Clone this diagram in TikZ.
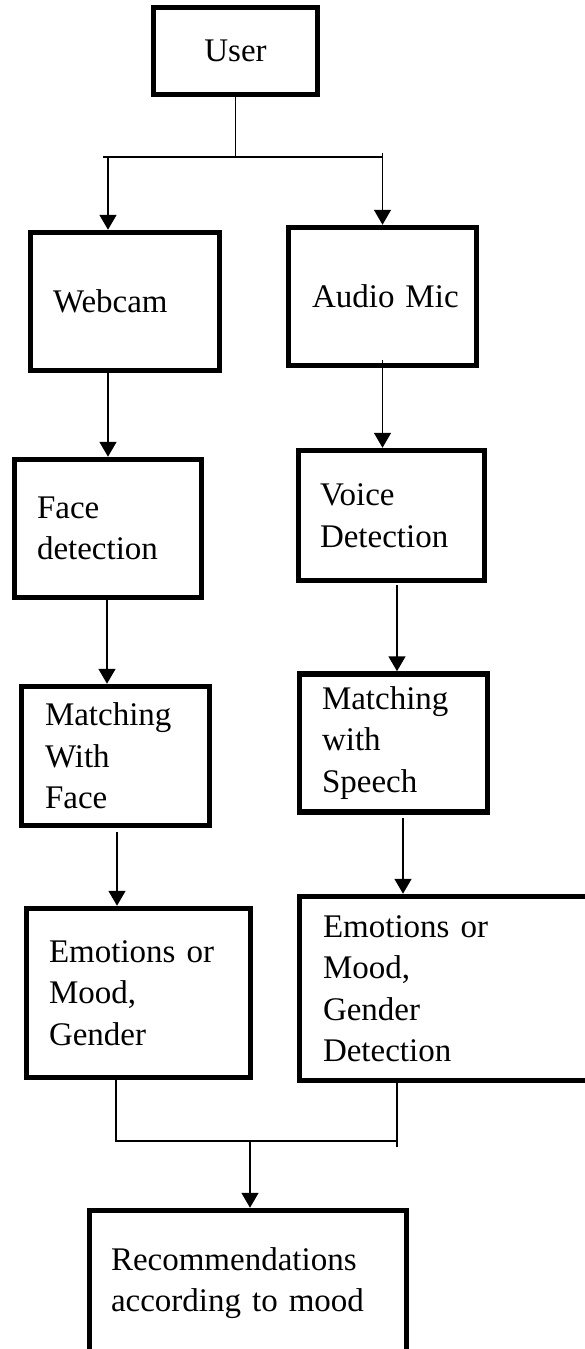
\documentclass[tikz,border=0pt]{standalone}
\usepackage{fontspec}
\setmainfont[WordSpace=0.55]{Liberation Serif}
\usetikzlibrary{arrows.meta}
\tikzset{
  box/.style={draw=black, line width=5.5pt, rectangle, align=left, inner ysep=0pt,
    font=\fontsize{33}{41.5}\selectfont},
  conn/.style={draw=black, line width=1.6pt},
  arr/.style={conn, -{Triangle[width=17pt,length=15pt]}},
}
\begin{document}
\begin{tikzpicture}[x=1pt,y=-1pt]
\useasboundingbox (0,0) rectangle (585,1349);
\clip (0,0) rectangle (585,1349);
\fill[white] (0,0) rectangle (585,1349);

\node[box, align=center, minimum width=164pt, minimum height=87pt] (user) at (235.5,51) {User};
\node[box, minimum width=189pt, minimum height=138pt, inner xsep=22.5pt, text width=144pt] (webcam) at (125,301.5) {Webcam};
\node[box, minimum width=188pt, minimum height=138pt, inner xsep=23.5pt, text width=141pt] (audio) at (382.5,296.5) {Audio~Mic};
\node[box, minimum width=187pt, minimum height=138pt, inner xsep=22.5pt, text width=142pt] (face) at (108,528.5) {Face\\detection};
\node[box, minimum width=186pt, minimum height=130pt, inner xsep=21.5pt, text width=143pt] (voice) at (391.5,515.5) {Voice\\Detection};
\node[box, minimum width=188pt, minimum height=139pt, inner xsep=23.5pt, text width=141pt] (matchF) at (115.5,756) {Matching\\With\\Face};
\node[box, minimum width=188pt, minimum height=138pt, inner xsep=22.5pt, text width=143pt] (matchS) at (393.5,743) {Matching\\with\\Speech};
\node[box, minimum width=224pt, minimum height=169pt, inner xsep=22.5pt, text width=179pt] (emoL) at (138.5,993) {Emotions~or\\Mood,\\Gender};
\node[box, minimum width=300.5pt, minimum height=184pt, inner xsep=23.5pt, text width=253.5pt] (emoR) at (449.75,988.5) {Emotions~or\\Mood,\\Gender\\Detection};
\node[box, minimum width=317pt, minimum height=145.5pt, inner xsep=21.5pt, text width=274pt] (rec) at (248,1283.25) {Recommendations\\according~to~mood};

% split below User
\coordinate (jm) at (235.5,157);
\coordinate (jl0) at (103,157);
\coordinate (jl) at (108,157);
\coordinate (jr) at (382.5,157);
\coordinate (jrt) at (382.5,153);
\draw[conn] (user.south) -- (jm);
\draw[conn] (jl0) -- (jr);
\draw[arr] (jl) -- (jl |- webcam.north);
\draw[arr] (jrt) -- (audio.north);

% left column
\draw[arr] (webcam.south -| face.north) -- (face.north);
\coordinate (fl) at (107,600);
\draw[arr] (fl) -- (fl |- matchF.north);
\coordinate (ml) at (117,832);
\draw[arr] (ml) -- (ml |- emoL.north);

% right column
\coordinate (al) at (382.5,360);
\draw[arr] (al) -- (al |- voice.north);
\coordinate (vl) at (397,585);
\draw[arr] (vl) -- (vl |- matchS.north);
\coordinate (sl) at (403,818);
\draw[arr] (sl) -- (sl |- emoR.north);

% merge
\coordinate (eL) at (116,1077);
\coordinate (eLb) at (116,1141);
\coordinate (eR) at (397,1083);
\coordinate (eRb) at (397,1147);
\coordinate (eRm) at (397,1141);
\coordinate (em) at (250,1141);
\draw[conn] (eL) -- (eLb) -- (eRm);
\draw[conn] (eR) -- (eRb);
\draw[arr] (em) -- (em |- rec.north);
\end{tikzpicture}
\end{document}
